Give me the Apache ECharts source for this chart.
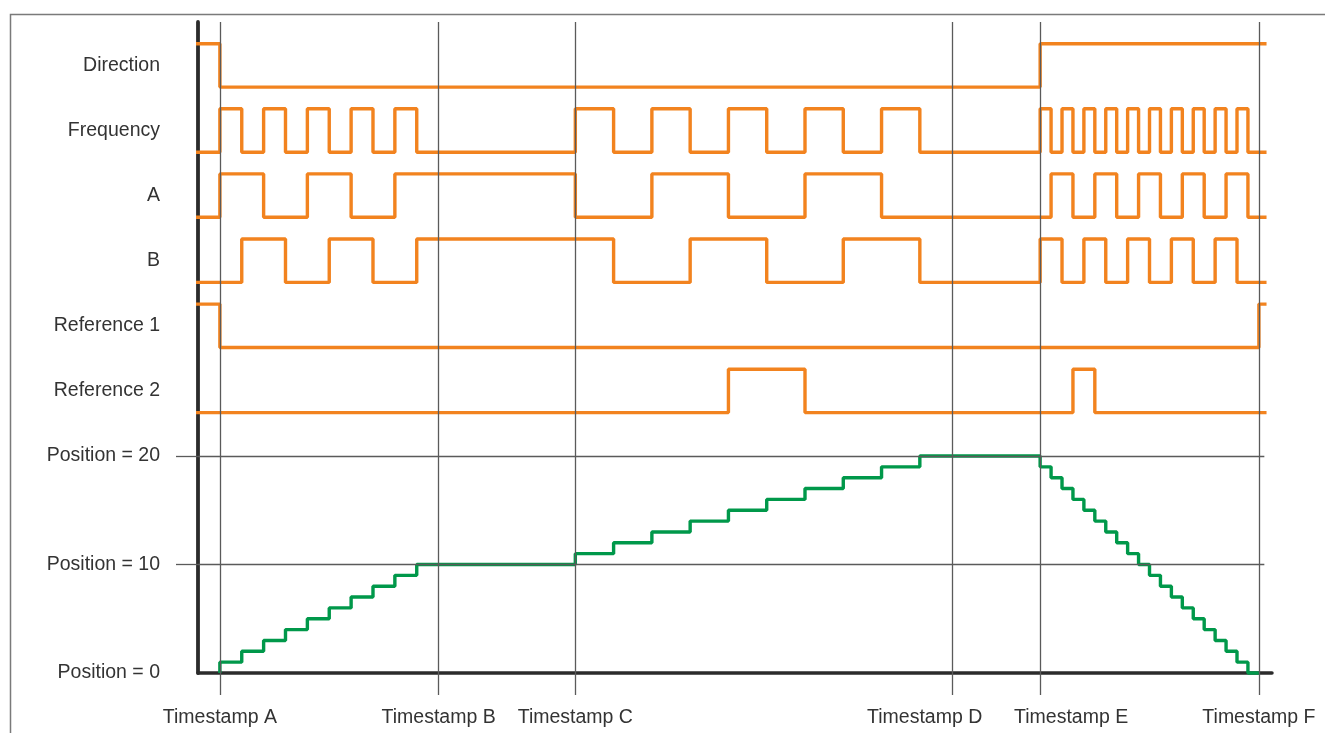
<!DOCTYPE html>
<html><head><meta charset="utf-8">
<script src="https://cdn.jsdelivr.net/npm/echarts@6/dist/echarts.min.js"></script>
<style>html,body{margin:0;padding:0;background:#fff}#c{width:1325px;height:733px}</style>
</head><body><div id="c"></div>
<script>
// ---- data (time in arbitrary units, Timestamp A = 0) ----
const timestampValues = [0, 20, 32.5, 67, 75, 95];
const timestampLabels = ['Timestamp A', 'Timestamp B', 'Timestamp C', 'Timestamp D', 'Timestamp E', 'Timestamp F'];

const signalNames = ['Direction', 'Frequency', 'A', 'B', 'Reference 1', 'Reference 2'];
// [time, state] : state holds from that time on
const directionStates = [[-2.6,1],[0,0],[75,1],[95.7,1]];
const frequencyStates = [[-2.6,0],[0,1],[2,0],[4,1],[6,0],[8,1],[10,0],[12,1],[14,0],[16,1],[18,0],
  [32.5,1],[36,0],[39.5,1],[43,0],[46.5,1],[50,0],[53.5,1],[57,0],[60.5,1],[64,0],
  [75,1],[76,0],[77,1],[78,0],[79,1],[80,0],[81,1],[82,0],[83,1],[84,0],[85,1],[86,0],[87,1],[88,0],[89,1],[90,0],[91,1],[92,0],[93,1],[94,0],[95.7,0]];
const aStates = [[-2.6,0],[0,1],[4,0],[8,1],[12,0],[16,1],[32.5,0],[39.5,1],[46.5,0],[53.5,1],[60.5,0],
  [76,1],[78,0],[80,1],[82,0],[84,1],[86,0],[88,1],[90,0],[92,1],[94,0],[95.7,0]];
const bStates = [[-2.6,0],[2,1],[6,0],[10,1],[14,0],[18,1],[36,0],[43,1],[50,0],[57,1],[64,0],
  [75,1],[77,0],[79,1],[81,0],[83,1],[85,0],[87,1],[89,0],[91,1],[93,0],[95.7,0]];
const ref1States = [[-2.6,1],[0,0],[95,1],[95.7,1]];
const ref2States = [[-2.6,0],[46.5,1],[53.5,0],[78,1],[80,0],[95.7,0]];

const positionTicks = [0, 10, 20];
const positionSteps = [[0,0],[0,1],[2,2],[4,3],[6,4],[8,5],[10,6],[12,7],[14,8],[16,9],[18,10],
  [32.5,11],[36,12],[39.5,13],[43,14],[46.5,15],[50,16],[53.5,17],[57,18],[60.5,19],[64,20],
  [75,19],[76,18],[77,17],[78,16],[79,15],[80,14],[81,13],[82,12],[83,11],[84,10],[85,9],[86,8],[87,7],[88,6],[89,5],[90,4],[91,3],[92,2],[93,1],[94,0],[95,0]];

// ---- layout helpers ----
const allStates = [directionStates, frequencyStates, aStates, bStates, ref1States, ref2States];
const LANE0 = 24, LANE_GAP = 6, AMP = 4;
const laneBase = signalNames.map((_, i) => LANE0 + LANE_GAP * (signalNames.length - 1 - i));
const labelMap = {};
positionTicks.forEach(v => labelMap[v] = 'Position = ' + v);
signalNames.forEach((n, i) => labelMap[laneBase[i] + AMP / 2] = n);
const yLabelValues = Object.keys(labelMap).map(Number);
// label style per timestamp (D and E are nudged apart so they do not collide)
const tsStyle = ['c', 'c', 'c', 'l', 'r', 'c'];
const tsMap = {};
timestampValues.forEach((v, i) => tsMap[v] = '{' + tsStyle[i] + '|' + timestampLabels[i] + '}');

const ORANGE = '#F2831F', GREEN = '#00984A';
const FONT = 19.5;
const series = [];
series.push({
  type: 'line', data: [], z: 1, silent: true,
  markLine: {
    silent: true, symbol: 'none', animation: false, label: {show: false},
    lineStyle: {color: '#5a5a5a', width: 1.3, type: 'solid'},
    data: timestampValues.map(v => ({xAxis: v})).concat(
      positionTicks.filter(v => v > 0).map(v => [{coord: [-2, v]}, {coord: [95.5, v]}]))
  }
});
allStates.forEach((st, i) => {
  series.push({
    type: 'line', step: 'end', symbol: 'none', clip: false, z: 3,
    lineStyle: {color: ORANGE, width: 3.4},
    data: st.map(p => [p[0], laneBase[i] + p[1] * AMP])
  });
});
series.push({
  type: 'line', step: 'end', symbol: 'none', clip: false, z: 4,
  lineStyle: {color: GREEN, width: 3.4},
  data: positionSteps
});

const chart = echarts.init(document.getElementById('c'), null, {renderer: 'canvas'});
chart.setOption({
  animation: false,
  backgroundColor: '#fff',
  textStyle: {fontFamily: 'Liberation Sans, Arial, sans-serif'},
  graphic: [{type: 'rect', left: 8, top: 12, shape: {width: 1400, height: 800},
    style: {fill: 'none', stroke: '#7a7a7a', lineWidth: 1.5}, z: 0, silent: true}],
  grid: {left: 198, right: 53, top: 22, bottom: 60, containLabel: false},
  xAxis: {
    type: 'value', min: -2, max: 96.2,
    axisLine: {show: true, onZero: false, lineStyle: {color: '#2b2b2b', width: 3.5}},
    axisTick: {show: true, customValues: timestampValues, length: 22, lineStyle: {color: '#5a5a5a', width: 1.3}},
    axisLabel: {show: true, customValues: timestampValues, margin: 35, fontSize: FONT, color: '#333',
      formatter: v => tsMap[v] || '',
      rich: {
        c: {fontSize: FONT, color: '#333'},
        l: {fontSize: FONT, color: '#333', padding: [0, 56, 0, 0]},
        r: {fontSize: FONT, color: '#333', padding: [0, 0, 0, 62]}
      }},
    splitLine: {show: false}
  },
  yAxis: {
    type: 'value', min: 0, max: 60,
    axisLine: {show: true, onZero: false, lineStyle: {color: '#2b2b2b', width: 3.8}},
    axisTick: {show: true, customValues: [10, 20], length: 22, lineStyle: {color: '#5a5a5a', width: 1.3}},
    axisLabel: {show: true, customValues: yLabelValues, margin: 38, fontSize: FONT, color: '#333',
      formatter: v => labelMap[v] || ''},
    splitLine: {show: false}
  },
  series: series
});
</script></body></html>
